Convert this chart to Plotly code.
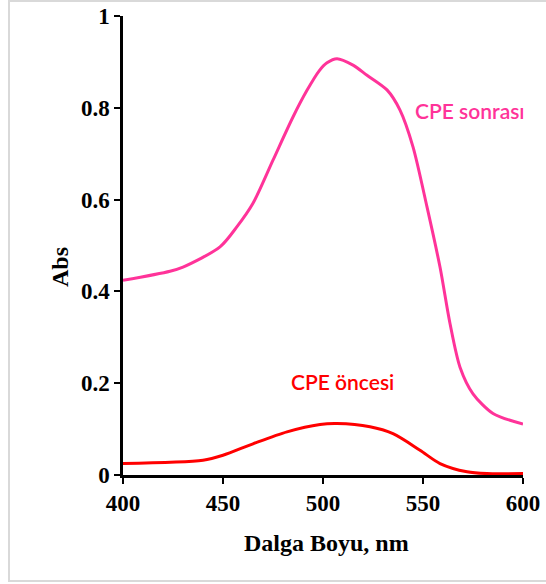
import plotly.graph_objects as go

# Data
wl_after = [400, 423.5, 430, 448.5, 457, 465, 475, 485, 492, 498, 502, 507, 515, 522, 532, 538.5, 545, 552, 558.5, 563.5, 568.5, 575, 585, 600]
abs_after = [0.424, 0.444, 0.453, 0.497, 0.541, 0.592, 0.686, 0.78, 0.838, 0.880, 0.898, 0.907, 0.893, 0.871, 0.839, 0.795, 0.715, 0.584, 0.453, 0.330, 0.235, 0.177, 0.134, 0.111]

wl_before = [400, 440, 450, 465, 482, 498.5, 507, 523.5, 535, 548.5, 558.5, 572, 582, 600]
abs_before = [0.025, 0.032, 0.043, 0.068, 0.094, 0.110, 0.112, 0.105, 0.090, 0.054, 0.025, 0.007, 0.003, 0.003]

x_ticks = [400, 450, 500, 550, 600]
y_ticks = [0, 0.2, 0.4, 0.6, 0.8, 1]
y_tick_text = ["0", "0.2", "0.4", "0.6", "0.8", "1"]

label_after = "CPE sonrası"
label_before = "CPE öncesi"
x_title = "Dalga Boyu, nm"
y_title = "Abs"

PINK = "#FF3399"
RED = "#FF0000"

fig = go.Figure()
fig.add_trace(go.Scatter(x=wl_after, y=abs_after, mode="lines",
                         line=dict(color=PINK, width=3, shape="spline", smoothing=0.8),
                         showlegend=False, hoverinfo="skip"))
fig.add_trace(go.Scatter(x=wl_before, y=abs_before, mode="lines",
                         line=dict(color=RED, width=3, shape="spline", smoothing=0.8),
                         showlegend=False, hoverinfo="skip"))

W, H = 546, 584
ml, mr, mt, mb = 123, 23, 16, 109
pw, ph = W - ml - mr, H - mt - mb

TICKFONT = dict(family="Liberation Serif", size=23, color="black", weight="bold")

fig.update_layout(
    width=W, height=H,
    margin=dict(l=ml, r=mr, t=mt, b=mb, autoexpand=False),
    paper_bgcolor="white", plot_bgcolor="white",
    font=dict(family="Liberation Serif", size=23, color="black"),
)
fig.update_xaxes(range=[400, 600], tickvals=x_ticks, ticks="outside", ticklen=6,
                 tickwidth=2, tickcolor="black", showline=True, linecolor="black",
                 linewidth=2.5, showgrid=False, zeroline=False, automargin=False,
                 tickfont=TICKFONT)
fig.update_yaxes(range=[0, 1], tickvals=y_ticks, ticktext=y_tick_text, ticks="outside",
                 ticklen=6, tickwidth=2, tickcolor="black", showline=True,
                 linecolor="black", linewidth=2.5, showgrid=False, zeroline=False, automargin=False,
                 tickfont=TICKFONT)

def px_to_paper_x(px):
    return (px - ml) / pw

def px_to_paper_y(py):
    return (H - mb - py) / ph

# figure border
fig.add_shape(type="rect", xref="paper", yref="paper",
              x0=px_to_paper_x(9), x1=px_to_paper_x(560),
              y0=px_to_paper_y(581), y1=px_to_paper_y(1),
              line=dict(color="#D9D9D9", width=2), fillcolor="rgba(0,0,0,0)", layer="below")

fig.add_annotation(x=573.5, y=0.795, xref="x", yref="y", text=label_after, showarrow=False,
                   font=dict(family="Lato", size=21, color=PINK, weight=600))
fig.add_annotation(x=509.75, y=0.203, xref="x", yref="y", text=label_before, showarrow=False,
                   font=dict(family="Lato", size=21, color=RED, weight=600))

fig.add_annotation(x=px_to_paper_x(326), y=px_to_paper_y(558), xref="paper", yref="paper",
                   text=x_title, showarrow=False,
                   font=dict(family="Liberation Serif", size=24, color="black", weight="bold"))
fig.add_annotation(x=px_to_paper_x(45), y=px_to_paper_y(267), xref="paper", yref="paper",
                   text=y_title, showarrow=False, textangle=-90,
                   font=dict(family="Liberation Serif", size=24, color="black", weight="bold"))

fig.write_html("out.html")
